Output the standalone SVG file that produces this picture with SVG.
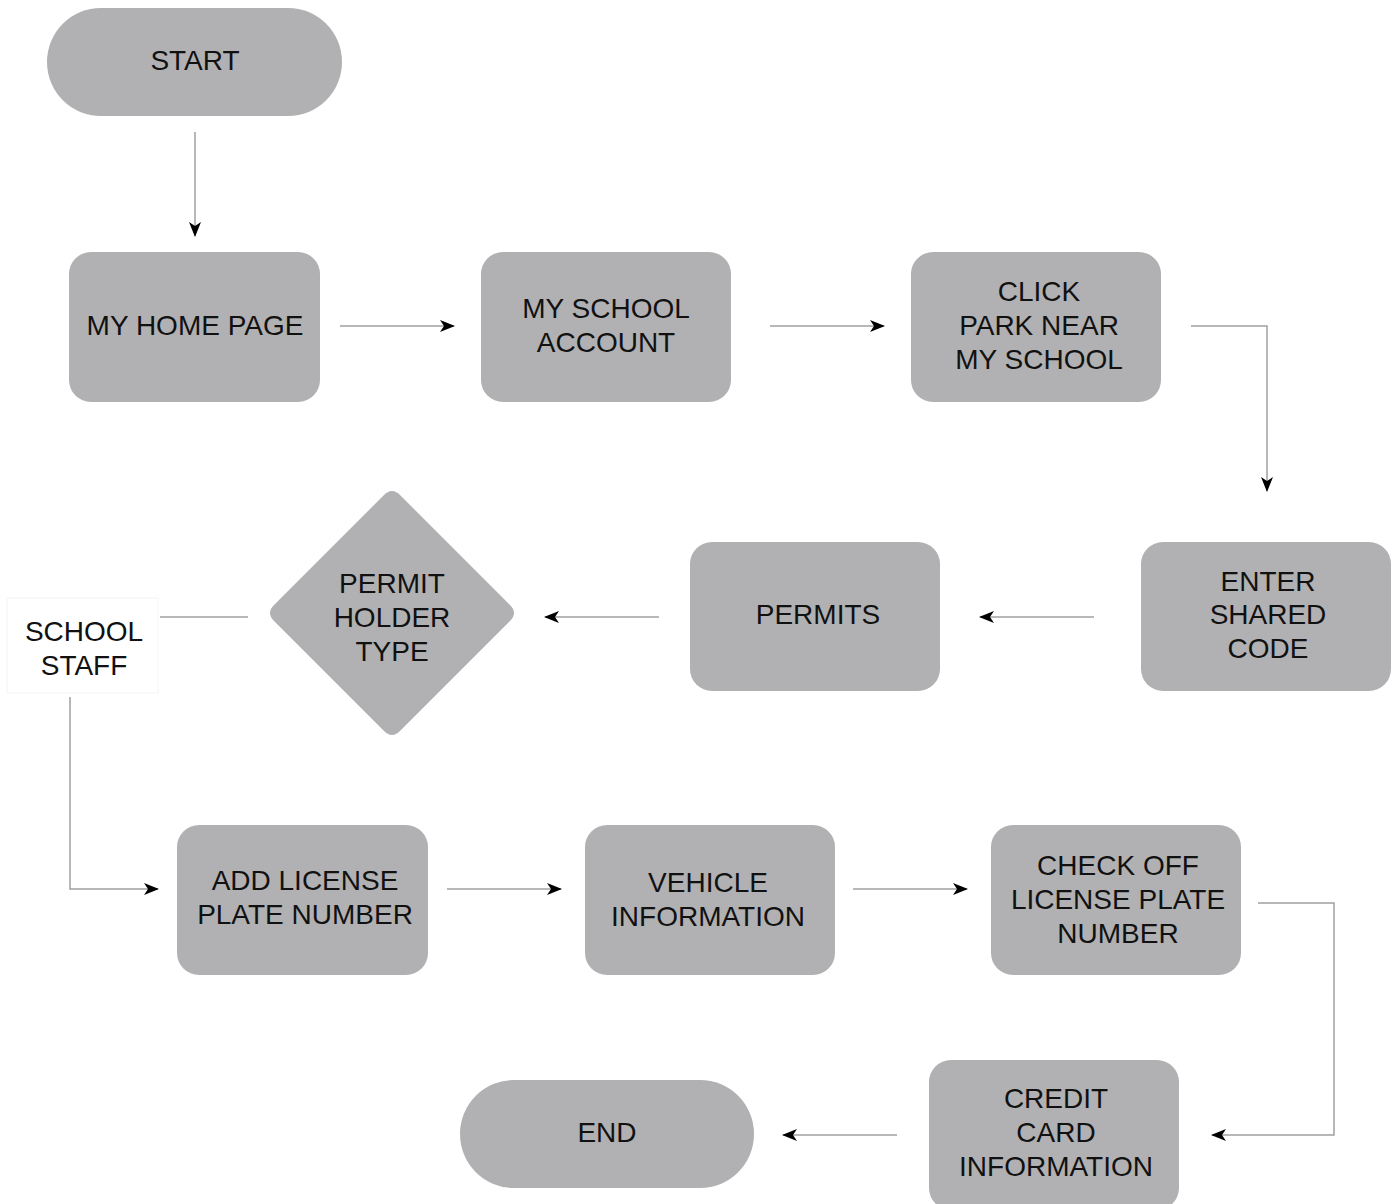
<svg xmlns="http://www.w3.org/2000/svg" width="1400" height="1204" viewBox="0 0 1400 1204">
<defs>
<style>
.n{fill:#b1b1b3}
.t{font-family:"Liberation Sans",Arial,sans-serif;font-size:28px;fill:#111;text-anchor:middle}
.c{fill:none;stroke:#a0a0a0;stroke-width:1.5}
</style>
<marker id="ah" viewBox="0 0 15 12" refX="14" refY="6" markerWidth="15" markerHeight="12" markerUnits="userSpaceOnUse" orient="auto">
<path d="M0,0 L15,6 L0,12 L4,6 Z" fill="#000"/>
</marker>
</defs>
<rect width="1400" height="1204" fill="#fff"/>
<g id="connectors">
<path class="c" d="M195,132 V236" marker-end="url(#ah)"/>
<path class="c" d="M340,326 H454" marker-end="url(#ah)"/>
<path class="c" d="M770,326 H884" marker-end="url(#ah)"/>
<path class="c" d="M1191,326 H1267 V491" marker-end="url(#ah)"/>
<path class="c" d="M1094,617 H980" marker-end="url(#ah)"/>
<path class="c" d="M659,617 H545" marker-end="url(#ah)"/>
<path class="c" d="M248,617 H160"/>
<path class="c" d="M70,697 V889 H158" marker-end="url(#ah)"/>
<path class="c" d="M447,889 H561" marker-end="url(#ah)"/>
<path class="c" d="M853,889 H967" marker-end="url(#ah)"/>
<path class="c" d="M1258,903 H1334 V1135 H1212" marker-end="url(#ah)"/>
<path class="c" d="M897,1135 H783" marker-end="url(#ah)"/>
</g>
<g id="start"><rect class="n" x="47" y="8" width="295" height="108" rx="54"/><text class="t" x="195" y="70">START</text></g>
<g id="home"><rect class="n" x="69" y="252" width="251" height="150" rx="22"/><text class="t" x="195" y="335">MY HOME PAGE</text></g>
<g id="school-account"><rect class="n" x="481" y="252" width="250" height="150" rx="22"/><text class="t" x="606" y="318">MY SCHOOL</text><text class="t" x="606" y="352">ACCOUNT</text></g>
<g id="click-park"><rect class="n" x="911" y="252" width="250" height="150" rx="22"/><text class="t" x="1039" y="301">CLICK</text><text class="t" x="1039" y="335">PARK NEAR</text><text class="t" x="1039" y="369">MY SCHOOL</text></g>
<g id="shared-code"><rect class="n" x="1141" y="542" width="250" height="149" rx="22"/><text class="t" x="1268" y="591">ENTER</text><text class="t" x="1268" y="624">SHARED</text><text class="t" x="1268" y="658">CODE</text></g>
<g id="permits"><rect class="n" x="690" y="542" width="250" height="149" rx="22"/><text class="t" x="818" y="624">PERMITS</text></g>
<g id="holder-type"><path class="n" d="M384,495 Q392,487 400,495 L510,605 Q518,613 510,621 L400,731 Q392,739 384,731 L274,621 Q266,613 274,605 Z"/><text class="t" x="392" y="593">PERMIT</text><text class="t" x="392" y="627">HOLDER</text><text class="t" x="392" y="661">TYPE</text></g>
<g id="school-staff"><rect x="7" y="598" width="151" height="95" fill="#fff" stroke="#f4f4f4" stroke-width="1"/><text class="t" x="84" y="641">SCHOOL</text><text class="t" x="84" y="675">STAFF</text></g>
<g id="add-plate"><rect class="n" x="177" y="825" width="251" height="150" rx="22"/><text class="t" x="305" y="890">ADD LICENSE</text><text class="t" x="305" y="924">PLATE NUMBER</text></g>
<g id="vehicle"><rect class="n" x="585" y="825" width="250" height="150" rx="22"/><text class="t" x="708" y="892">VEHICLE</text><text class="t" x="708" y="926">INFORMATION</text></g>
<g id="check-off"><rect class="n" x="991" y="825" width="250" height="150" rx="22"/><text class="t" x="1118" y="875">CHECK OFF</text><text class="t" x="1118" y="909">LICENSE PLATE</text><text class="t" x="1118" y="943">NUMBER</text></g>
<g id="credit-card"><rect class="n" x="929" y="1060" width="250" height="150" rx="22"/><text class="t" x="1056" y="1108">CREDIT</text><text class="t" x="1056" y="1142">CARD</text><text class="t" x="1056" y="1176">INFORMATION</text></g>
<g id="end"><rect class="n" x="460" y="1080" width="294" height="108" rx="54"/><text class="t" x="607" y="1142">END</text></g>
</svg>
